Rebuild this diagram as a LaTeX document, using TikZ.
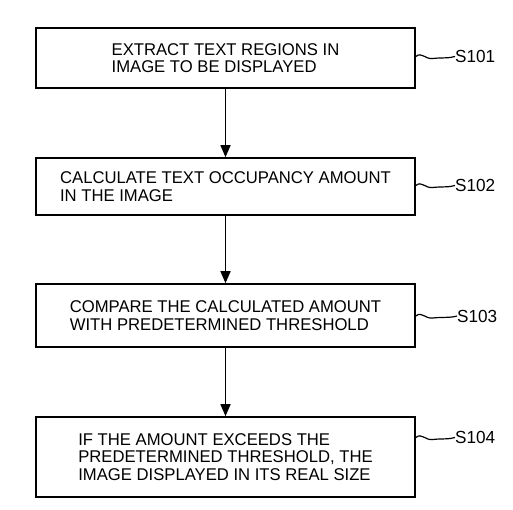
\documentclass[tikz,border=0pt]{standalone}
\usepackage{fontspec}
\setmainfont{Liberation Sans}[FakeStretch=0.98]
\usetikzlibrary{arrows.meta}
\begin{document}
\begin{tikzpicture}[x=1pt,y=-1pt,
  stepbox/.style={draw, line width=1.6pt, minimum width=379pt, align=left,
    font=\fontsize{17}{17.5}\selectfont, inner sep=0pt},
  flow/.style={line width=1.5pt, -{Triangle[width=10pt,length=12pt]}},
  steplabel/.style={anchor=west, inner sep=0pt, font=\fontsize{17.5}{18}\selectfont},
  squig/.style={line width=1.2pt}]
\useasboundingbox (0,0) rectangle (513,510);
\node[stepbox, minimum height=60pt] (b1) at (225.5,58) {EXTRACT TEXT REGIONS IN\\IMAGE TO BE DISPLAYED};
\node[stepbox, minimum height=57pt] (b2) at (225.5,186.5) {CALCULATE TEXT OCCUPANCY AMOUNT\\IN THE IMAGE};
\node[stepbox, minimum height=63pt] (b3) at (225.5,315.5) {COMPARE THE CALCULATED AMOUNT\\WITH PREDETERMINED THRESHOLD};
\node[stepbox, minimum height=80pt] (b4) at (225.5,457) {IF THE AMOUNT EXCEEDS THE\\PREDETERMINED THRESHOLD, THE\\IMAGE DISPLAYED IN ITS REAL SIZE};
\draw[flow] (b1.south) -- (b2.north);
\draw[flow] (b2.south) -- (b3.north);
\draw[flow] (b3.south) -- (b4.north);
\node[steplabel] (l1) at (455,56.5) {S101};
\node[steplabel] (l2) at (455,185.5) {S102};
\node[steplabel] (l3) at (457,316) {S103};
\node[steplabel] (l4) at (455,437.5) {S104};
\foreach \b/\l in {b1/l1,b2/l2,b3/l3,b4/l4}{
  \draw[squig] (\b.east |- \l.west) .. controls +(6,-5) and +(-8,1) .. ++(17,2) .. controls +(8,-1) and +(-6,2) .. (\l.west);
}
\end{tikzpicture}
\end{document}
